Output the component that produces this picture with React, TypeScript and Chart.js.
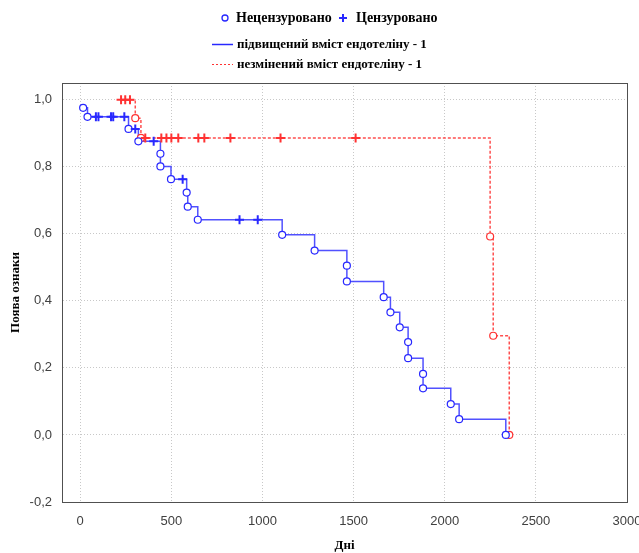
import React, { useEffect, useRef } from "react";
import { Chart, registerables } from "chart.js";

Chart.register(...registerables);

const xTicks = [0, 500, 1000, 1500, 2000, 2500, 3000];
const yTicks = [-0.2, 0, 0.2, 0.4, 0.6, 0.8, 1.0];

// Group 1: підвищений вміст ендотеліну - 1 (blue, solid)
const blueEventDays = [16, 40, 265, 319, 440, 440, 498, 584, 590, 645, 1108, 1286, 1463, 1463, 1665, 1702, 1753, 1799, 1799, 1881, 1881, 2033, 2079, 2335];
const blueEventSurv = [0.976, 0.949, 0.913, 0.876, 0.839, 0.801, 0.763, 0.723, 0.681, 0.642, 0.597, 0.55, 0.505, 0.458, 0.411, 0.366, 0.321, 0.277, 0.229, 0.182, 0.139, 0.092, 0.047, 0.0];
const blueCensDays = [86, 100, 169, 181, 242, 302, 403, 562, 874, 974];
const blueCensSurv = [0.949, 0.949, 0.949, 0.949, 0.949, 0.913, 0.876, 0.763, 0.642, 0.642];

// Group 2: незмінений вміст ендотеліну - 1 (red, dashed)
const redEventDays = [302, 333, 2249, 2266, 2354];
const redEventSurv = [0.945, 0.886, 0.592, 0.296, 0.0];
const redCensDays = [224, 247, 273, 357, 445, 473, 500, 538, 648, 681, 824, 1099, 1511];
const redCensSurv = [1.0, 1.0, 1.0, 0.886, 0.886, 0.886, 0.886, 0.886, 0.886, 0.886, 0.886, 0.886, 0.886];

const legendMarks = ["Нецензуровано", "Цензуровано"];
const legendSeries = ["підвищений вміст ендотеліну - 1", "незмінений вміст ендотеліну - 1"];
const xTitle = "Дні";
const yTitle = "Поява ознаки";

const BLUE = "rgb(40,40,255)";
const RED = "rgb(255,50,50)";

function toPts(days: number[], surv: number[]) {
  return days.map((x, i) => ({ x, y: surv[i] }));
}

function mergeSteps(eD: number[], eS: number[], cD: number[], cS: number[]) {
  const pts = [...toPts(eD, eS), ...toPts(cD, cS)];
  pts.sort((a, b) => (a.x - b.x) || (b.y - a.y));
  return pts;
}

const framePlugin = {
  id: "frame",
  afterDraw(chart: any) {
    const { ctx, chartArea } = chart;
    ctx.save();
    ctx.strokeStyle = "#505050";
    ctx.lineWidth = 1;
    ctx.strokeRect(Math.round(chartArea.left) + 0.5, Math.round(chartArea.top) + 0.5,
      Math.round(chartArea.right - chartArea.left), Math.round(chartArea.bottom - chartArea.top));
    ctx.restore();
  },
};

export default function App() {
  const ref = useRef<HTMLCanvasElement | null>(null);

  useEffect(() => {
    if (!ref.current) return;
    const tickFont = { family: "'Liberation Sans', Arial, sans-serif", size: 13 };
    const titleFont = { family: "'Liberation Serif', 'Times New Roman', serif", size: 13, weight: "bold" as const };
    const chart = new Chart(ref.current, {
      type: "scatter",
      data: {
        datasets: [
          {
            label: "blue censored",
            data: toPts(blueCensDays, blueCensSurv),
            pointStyle: "cross",
            pointRadius: 4.5,
            borderWidth: 2,
            borderColor: BLUE,
            backgroundColor: BLUE,
            order: 0,
          },
          {
            label: "red censored",
            data: toPts(redCensDays, redCensSurv),
            pointStyle: "cross",
            pointRadius: 4.5,
            borderWidth: 2,
            borderColor: RED,
            backgroundColor: RED,
            order: 0,
          },
          {
            label: "blue events",
            data: toPts(blueEventDays, blueEventSurv),
            pointStyle: "circle",
            pointRadius: 3.5,
            borderWidth: 1.2,
            borderColor: BLUE,
            backgroundColor: "#ffffff",
            order: 0,
          },
          {
            label: "red events",
            data: toPts(redEventDays, redEventSurv),
            pointStyle: "circle",
            pointRadius: 3.5,
            borderWidth: 1.2,
            borderColor: RED,
            backgroundColor: "#ffffff",
            order: 0,
          },
          {
            type: "line",
            label: legendSeries[0],
            data: mergeSteps(blueEventDays, blueEventSurv, blueCensDays, blueCensSurv),
            borderColor: "rgba(50,50,255,0.85)",
            borderWidth: 1.5,
            pointRadius: 0,
            stepped: "before",
            fill: false,
            order: 1,
          } as any,
          {
            type: "line",
            label: legendSeries[1],
            data: mergeSteps(redEventDays, redEventSurv, redCensDays, redCensSurv),
            borderColor: "rgba(255,60,60,0.9)",
            borderWidth: 1.5,
            borderDash: [3, 2],
            pointRadius: 0,
            stepped: "before",
            fill: false,
            order: 1,
          } as any,
        ],
      },
      options: {
        responsive: false,
        animation: false,
        devicePixelRatio: 1,
        layout: { padding: { top: 83, right: 0, left: 0, bottom: 0 } },
        plugins: { legend: { display: false }, tooltip: { enabled: false } },
        scales: {
          x: {
            type: "linear",
            min: -100,
            max: 3000,
            afterBuildTicks: (s: any) => { s.ticks = xTicks.map((v) => ({ value: v })); },
            afterFit: (s: any) => { s.height = 51; s.paddingLeft = 0; s.paddingRight = 12; },
            ticks: {
              font: tickFont, color: "#404040", padding: 12, maxRotation: 0, autoSkip: false,
              callback: (v: any) => String(v),
            },
            grid: { color: "#c8c8c8", drawTicks: false, lineWidth: 1 },
            border: { display: true, color: "#505050", dash: [1, 2] },
            title: { display: true, text: xTitle, font: titleFont, color: "#000", padding: { top: 0, bottom: 0 } },
          },
          y: {
            type: "linear",
            min: -0.2,
            max: 1.05,
            afterBuildTicks: (s: any) => { s.ticks = yTicks.map((v) => ({ value: v })); },
            afterFit: (s: any) => { s.width = 62; },
            ticks: {
              font: tickFont,
              color: "#404040",
              padding: 10,
              callback: (v: any) => Number(v).toFixed(1).replace(".", ","),
            },
            grid: { color: "#c8c8c8", drawTicks: false, lineWidth: 1 },
            border: { display: true, color: "#505050", dash: [1, 2] },
            title: { display: true, text: yTitle, font: titleFont, color: "#000", padding: { top: 8, bottom: 0 } },
          },
        },
      },
      plugins: [framePlugin],
    } as any);
    return () => chart.destroy();
  }, []);

  const textStyle: React.CSSProperties = {
    position: "absolute",
    fontFamily: "'Liberation Serif', 'Times New Roman', serif",
    fontWeight: "bold",
    fontSize: 14,
    color: "#000",
    whiteSpace: "nowrap",
    lineHeight: "16px",
  };

  return (
    <div style={{ position: "absolute", left: 0, top: 0, width: 639, height: 553, background: "#fff", overflow: "hidden" }}>
      <canvas ref={ref} width={639} height={553} style={{ position: "absolute", left: 0, top: 0 }} />
      <svg width={639} height={80} style={{ position: "absolute", left: 0, top: 0 }}>
        <circle cx={225} cy={18} r={3} fill="#fff" stroke={BLUE} strokeWidth={1.3} />
        <line x1={339} y1={18} x2={347} y2={18} stroke={BLUE} strokeWidth={2} />
        <line x1={343} y1={14} x2={343} y2={22} stroke={BLUE} strokeWidth={2} />
        <line x1={212} y1={44.5} x2={233} y2={44.5} stroke={BLUE} strokeWidth={1.5} />
        <line x1={212} y1={64.5} x2={233} y2={64.5} stroke={RED} strokeWidth={1} strokeDasharray="2,2" />
      </svg>
      <div style={{ ...textStyle, left: 236, top: 10 }}>{legendMarks[0]}</div>
      <div style={{ ...textStyle, left: 356, top: 10 }}>{legendMarks[1]}</div>
      <div style={{ ...textStyle, left: 237, top: 36, fontSize: 13 }}>{legendSeries[0]}</div>
      <div style={{ ...textStyle, left: 237, top: 56, fontSize: 13 }}>{legendSeries[1]}</div>
    </div>
  );
}
